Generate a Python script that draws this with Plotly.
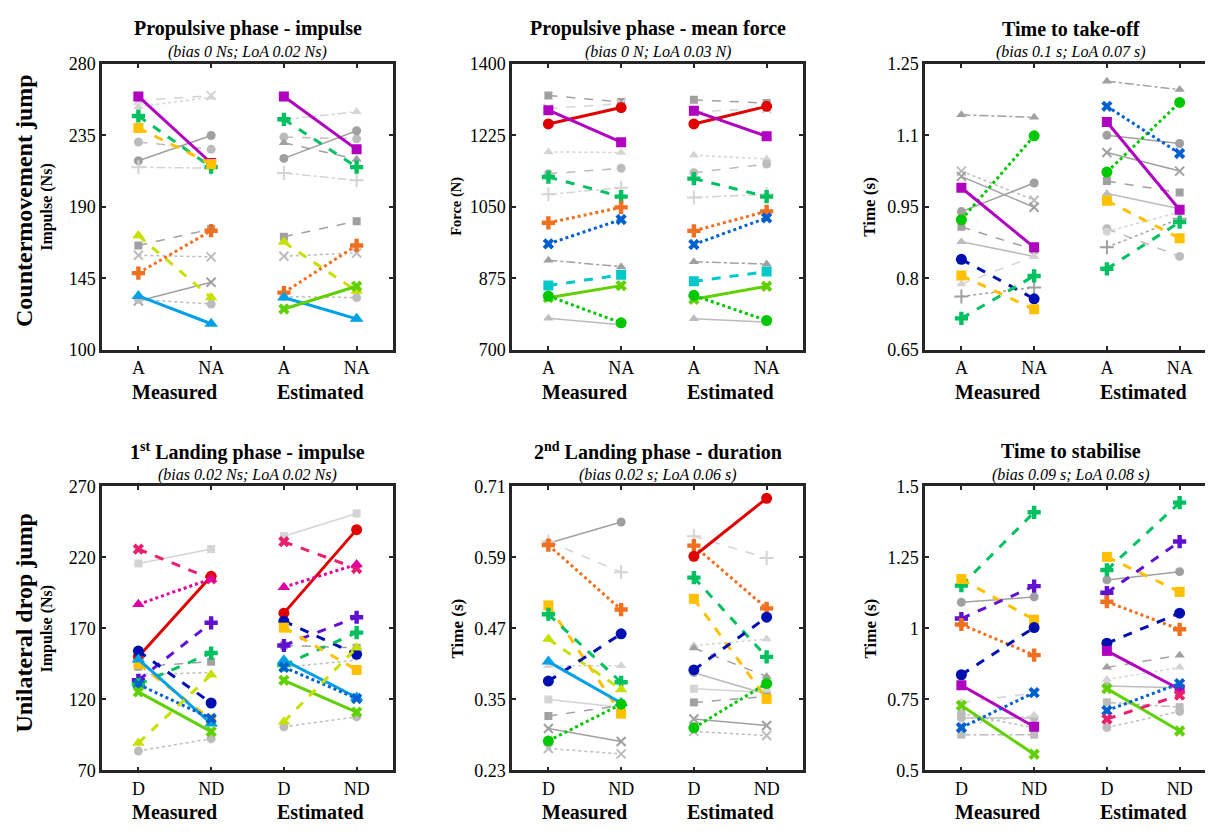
import plotly.graph_objects as go

# ---------------- data (values: [Measured A/D, Measured NA/ND, Estimated A/D, Estimated NA/ND]) ----------------
x_labels_top = ["A", "NA", "A", "NA"]
x_labels_bot = ["D", "ND", "D", "ND"]
group_labels = ["Measured", "Estimated"]

p1_series = ["g_lx_dash", "g_ltri_dot", "g_ltri_dashdot", "g_lcirc_dash", "g_circ_solid", "g_lplus_dashdot",
             "g_tri_dash", "g_sq_dash", "g_lx_dot", "g_x_solid", "g_circ_dot",
             "purple", "green_dash", "gold", "ygreen", "orange", "blue", "lime"]
p1_values = [[257, 260, None, None], [253, 259, None, None], [None, None, 245, 249.8],
             [230.8, 226.2, 234, 232.8], [219, 234.9, 220.5, 237.9], [215, 214.3, 211.3, 206.7],
             [None, None, 230.3, 220], [165.7, 176, 171.2, 181], [159.5, 158.5, 158.9, 161],
             [130.8, 142.5, None, None], [131.8, 128.8, 133.5, 132.9],
             [259.5, 217.6, 259.5, 226.2], [247.2, 215, 245.1, 215], [239.6, 217, None, None],
             [171.9, 132.9, 167.8, 137], [148.3, 175, 136, 165.7], [133.9, 116.4, 132.9, 119.5],
             [None, None, 125.7, 140]]

p2_series = ["g_sq_dash", "g_lx_dash", "g_ltri_dot", "g_lcirc_dash", "g_lplus_dashdot", "g_tri_dashdot",
             "g_ltri_solid", "red", "purple", "green_dash", "orange", "dblue", "cyan", "lime", "gdot"]
p2_values = [[1322.6, 1306.6, 1312, 1304], [1290.6, 1302.6, 1283, 1290.6], [1184.5, 1183, 1176.5, 1167],
             [1131, 1144.6, 1133.4, 1155], [1080.7, 1096.7, 1072.7, 1080.7], [919.5, 903.5, 915.5, 910],
             [777.4, 761.4, 775.8, 767.8], [1253, 1293, 1253, 1296], [1286.7, 1208.4, 1285, 1222.8],
             [1123, 1075, 1119, 1075], [1011, 1048.8, 991.3, 1039], [959.4, 1019, 957.8, 1023],
             [857.2, 883.6, 867.6, 891.5], [827.7, 857.2, 823.7, 855.6], [831.7, 766, 833.3, 771.8]]

p3_series = ["g_tri_dashdot", "g_lx_dot", "g_x_solid", "g_circ_solid", "g_sq_dash", "g_tri_solid",
             "g_ltri_dash", "g_plus_dot", "g_lcirc_dash", "g_lcirc_dot",
             "gdot", "purple", "navy", "gold", "green_dash", "dblue"]
p3_values = [[1.143, 1.138, 1.2136, 1.196], [1.025, 0.964, None, None], [1.014, 0.949, 1.064, 1.025],
             [0.94, 1.0, 1.10, 1.083], [0.908, 0.86, 1.004, 0.98], [0.877, 0.846, 0.978, 0.946],
             [0.788, 0.846, None, None], [0.762, 0.781, 0.865, 0.925], [None, None, 0.904, 0.846],
             [None, None, 0.898, 0.939],
             [0.923, 1.099, 1.023, 1.169], [0.990, 0.865, 1.128, 0.944], [0.84, 0.757, None, None],
             [0.806, 0.735, 0.963, 0.884], [0.716, 0.805, 0.82, 0.918], [None, None, 1.161, 1.062]]

p4_series = ["g_lsq_solid", "g_sq_dash", "g_ldot", "g_circ_dot",
             "pink", "red", "magenta", "violet", "navy", "green_dash", "gold", "blue", "dblue", "lime", "ygreen"]
p4_values = [[215.8, 225.9, 235, 251], [143.1, 146.6, 158, 156.4], [137.4, 139, 142.7, 147.7],
             [83.7, 92.4, 100.8, 107.7],
             [225.9, 204.9, 231.1, 212.2], [150, 206.7, 180.8, 239.6], [187, 204.9, 199.1, 215.1],
             [133.5, 174, 158, 177.9], [154.1, 117.5, 175.1, 151.8], [130.6, 152.7, 144.3, 167.1],
             [145, 106, 170.6, 140.8], [148.2, 103.1, 147.7, 121.4], [130.6, 106.6, 142.7, 120.7],
             [125.3, 97.4, 133.5, 111.1], [89.4, 137.4, 104.3, 156.4]]

p5_series = ["g_circ_solid", "g_lplus_dash", "g_ltri_dot", "g_tri_dash", "g_lcirc_solid", "g_lsq_solid",
             "g_sq_dash", "g_x_solid", "g_lx_dot",
             "orange", "red", "gold", "green_dash", "ygreen", "navy", "blue", "gdot"]
p5_values = [[0.614, 0.65, None, None], [0.617, 0.565, 0.626, 0.589], [0.407, 0.407, 0.441, 0.452],
             [None, None, 0.437, 0.389], [None, None, 0.395, 0.359], [0.35, 0.337, 0.368, 0.362],
             [0.322, 0.34, 0.345, 0.355], [0.301, 0.279, 0.317, 0.306], [0.267, 0.258, 0.296, 0.289],
             [0.611, 0.502, 0.61, 0.504], [None, None, 0.592, 0.69], [0.509, 0.326, 0.52, 0.351],
             [0.494, 0.379, 0.556, 0.422], [0.452, 0.367, None, None], [0.381, 0.461, 0.4, 0.489],
             [0.414, 0.344, None, None], [0.28, 0.342, 0.302, 0.377]]

p6_series = ["g_circ_solid", "g_ltri_dash", "g_lcirc_solid", "g_sq_dashdot", "g_ltri_dot", "g_tri_dash",
             "g_circ_dot",
             "green_dash", "gold", "violet", "orange", "navy", "purple", "lime", "dblue", "pink"]
p6_values = [[1.092, 1.111, 1.171, 1.2], [0.74, 0.772, None, None], [0.685, 0.685, 0.797, 0.791],
             [0.626, 0.626, 0.74, 0.723], [0.66, 0.694, 0.82, 0.863], [None, None, 0.863, 0.906],
             [0.70, 0.65, 0.651, 0.708],
             [1.151, 1.409, 1.206, 1.443], [1.174, 1.031, 1.252, 1.129], [1.035, 1.149, 1.126, 1.306],
             [1.014, 0.906, 1.094, 0.997], [0.837, 1.003, 0.948, 1.054], [0.80, 0.654, 0.921, 0.786],
             [0.729, 0.557, 0.788, 0.639], [0.651, 0.774, 0.711, 0.806], [None, None, 0.681, 0.765]]

titles = ["Propulsive phase - impulse", "Propulsive phase - mean force", "Time to take-off",
          "1<sup>st</sup> Landing phase - impulse", "2<sup>nd</sup> Landing phase - duration", "Time to stabilise"]
subtitles = ["(bias 0 Ns; LoA 0.02 Ns)", "(bias 0 N; LoA 0.03 N)", "(bias 0.1 s; LoA 0.07 s)",
             "(bias 0.02 Ns; LoA 0.02 Ns)", "(bias 0.02 s; LoA 0.06 s)", "(bias 0.09 s; LoA 0.08 s)"]
y_titles = ["Impulse (Ns)", "Force (N)", "Time (s)", "Impulse (Ns)", "Time (s)", "Time (s)"]
y_ticks = [[100, 145, 190, 235, 280], [700, 875, 1050, 1225, 1400], [0.65, 0.8, 0.95, 1.1, 1.25],
           [70, 120, 170, 220, 270], [0.23, 0.35, 0.47, 0.59, 0.71], [0.5, 0.75, 1, 1.25, 1.5]]
y_ticktext = [["100", "145", "190", "235", "280"], ["700", "875", "1050", "1225", "1400"],
              ["0.65", "0.8", "0.95", "1.1", "1.25"], ["70", "120", "170", "220", "270"],
              ["0.23", "0.35", "0.47", "0.59", "0.71"], ["0.5", "0.75", "1", "1.25", "1.5"]]
row_labels = ["Countermovement jump", "Unilateral drop jump"]
x_pos = [1, 2, 3, 4]

# ---------------- styles ----------------
G1, G2, G3 = "#a0a0a0", "#bcbcbc", "#d4d4d4"
STY = {
    # key: color, dash, symbol, width, size
    "purple": ("#b000c0", "solid", "square", 3, 10),
    "green_dash": ("#00c060", "dash", "cross", 3, 11),
    "gold": ("#ffc000", "dash", "square", 3, 10),
    "ygreen": ("#c8e000", "dash", "triangle-up", 3, 11),
    "orange": ("#f07020", "dot", "cross", 3, 11),
    "blue": ("#00a0e6", "solid", "triangle-up", 3, 12),
    "lime": ("#60d000", "solid", "x", 3, 10),
    "red": ("#e00000", "solid", "circle", 3, 11),
    "dblue": ("#0060d0", "dot", "x", 3, 10),
    "navy": ("#0010b0", "dash", "circle", 3, 11),
    "cyan": ("#00c8c8", "dash", "square", 3, 10),
    "gdot": ("#00c800", "dot", "circle", 3, 11),
    "pink": ("#e8206e", "dash", "x", 3, 10),
    "magenta": ("#e000a0", "dot", "triangle-up", 3, 11),
    "violet": ("#6010d0", "dash", "cross", 3, 11),
    "g_lx_dash": (G3, "dash", "x-thin", 1.5, 9),
    "g_ltri_dot": (G3, "dot", "triangle-up", 1.5, 9),
    "g_ltri_dashdot": (G3, "dashdot", "triangle-up", 1.5, 9),
    "g_ltri_dash": (G3, "dash", "triangle-up", 1.5, 9),
    "g_ltri_solid": (G2, "solid", "triangle-up", 1.5, 9),
    "g_lcirc_dash": (G2, "dash", "circle", 1.5, 9),
    "g_lcirc_dot": (G3, "dot", "circle", 1.5, 8),
    "g_lcirc_solid": (G2, "solid", "circle", 1.5, 9),
    "g_circ_solid": (G1, "solid", "circle", 1.5, 9),
    "g_circ_dot": (G2, "dot", "circle", 1.5, 9),
    "g_lplus_dashdot": (G3, "dashdot", "cross-thin", 1.5, 10),
    "g_lplus_dash": (G3, "dash", "cross-thin", 1.5, 10),
    "g_plus_dot": (G1, "dot", "cross-thin", 1.5, 10),
    "g_tri_dash": (G1, "dash", "triangle-up", 1.5, 9),
    "g_tri_dashdot": (G1, "dashdot", "triangle-up", 1.5, 9),
    "g_tri_solid": (G2, "solid", "triangle-up", 1.5, 9),
    "g_sq_dash": (G1, "dash", "square", 1.5, 8),
    "g_sq_dashdot": (G2, "dashdot", "square", 1.5, 8),
    "g_lsq_solid": (G3, "solid", "square", 1.5, 8),
    "g_lx_dot": (G2, "dot", "x-thin", 1.5, 9),
    "g_x_solid": (G1, "solid", "x-thin", 1.5, 9),
    "g_ldot": (G2, "dot", "circle", 1.5, 1),
}

panels = [(p1_series, p1_values), (p2_series, p2_values), (p3_series, p3_values),
          (p4_series, p4_values), (p5_series, p5_values), (p6_series, p6_values)]

W, H = 1213, 832
OFF = 8  # page body margin
col_px = [(102, 393), (512, 803), (925, 1216)]
row_px = [(55, 348), (488, 779)]
ytitle_size = [16, 14.5, 17, 16, 17, 17]

FONT = "Liberation Serif"
fig = go.Figure()

for k, (names, vals) in enumerate(panels):
    ax = "" if k == 0 else str(k + 1)
    order = sorted(range(len(names)), key=lambda i: 0 if names[i].startswith("g_") else 1)
    for i in order:
        key = names[i]
        v = vals[i]
        color, dash, sym, lw, ms = STY[key]
        xs = [x_pos[0], x_pos[1], None, x_pos[2], x_pos[3]]
        ys = [v[0], v[1], None, v[2], v[3]]
        thin = sym.endswith("-thin")
        fig.add_trace(go.Scatter(
            x=xs, y=ys, mode="lines+markers", xaxis="x" + ax, yaxis="y" + ax,
            line=dict(color=color, dash=dash, width=lw), connectgaps=False,
            marker=dict(symbol=sym, size=ms, color=color,
                        line=dict(color=color, width=2 if thin else 0)),
            showlegend=False, hoverinfo="y"))


def px_x(p):
    return min(max((p - OFF) / W, 0), 1)


def px_y(p):
    return min(max(1 - (p - OFF) / H, 0), 1)


layout = dict(width=W, height=H, margin=dict(l=0, r=0, t=0, b=0), plot_bgcolor="white",
              paper_bgcolor="white", font=dict(family=FONT, color="black"), showlegend=False)
annotations = []
for k in range(6):
    r, c = divmod(k, 3)
    x0, x1 = col_px[c]
    y0, y1 = row_px[r]
    ax = "" if k == 0 else str(k + 1)
    common = dict(showline=True, linewidth=2.5, linecolor="#262626", mirror="allticks",
                  ticks="inside", ticklen=4, tickwidth=2, tickcolor="#262626",
                  showgrid=False, zeroline=False, tickfont=dict(size=18, family=FONT, color="black"))
    layout["xaxis" + ax] = dict(domain=[px_x(x0), px_x(x1)], range=[0.5, 4.5], tickvals=x_pos,
                                ticktext=x_labels_top if r == 0 else x_labels_bot,
                                anchor="y" + ax, **common)
    layout["yaxis" + ax] = dict(domain=[px_y(y1), px_y(y0)], range=[y_ticks[k][0], y_ticks[k][-1]],
                                tickvals=y_ticks[k], ticktext=y_ticktext[k], anchor="x" + ax, **common)
    cx = px_x((x0 + x1) / 2)
    annotations.append(dict(text="<b>" + titles[k] + "</b>", x=cx, y=px_y(y0 - 36), xref="paper",
                            yref="paper", showarrow=False, font=dict(size=20, family=FONT),
                            xanchor="center", yanchor="middle"))
    annotations.append(dict(text="<i>" + subtitles[k] + "</i>", x=cx, y=px_y(y0 - 12), xref="paper",
                            yref="paper", showarrow=False, font=dict(size=16, family=FONT),
                            xanchor="center", yanchor="middle"))
    for g, gx in enumerate([1.5, 3.5]):
        annotations.append(dict(text="<b>" + group_labels[g] + "</b>", x=gx, xref="x" + ax,
                                y=px_y(y1 + 43), yref="paper", showarrow=False,
                                font=dict(size=20, family=FONT), xanchor="center", yanchor="middle"))
    annotations.append(dict(text="<b>" + y_titles[k] + "</b>", x=px_x(x0 - 55), y=px_y((y0 + y1) / 2),
                            xref="paper", yref="paper", showarrow=False, textangle=-90,
                            font=dict(size=ytitle_size[k], family=FONT), xanchor="center", yanchor="middle"))
for r in range(2):
    y0, y1 = row_px[r]
    annotations.append(dict(text="<b>" + row_labels[r] + "</b>", x=px_x(24), y=px_y((y0 + y1) / 2 - 6),
                            xref="paper", yref="paper", showarrow=False, textangle=-90,
                            font=dict(size=24, family=FONT), xanchor="center", yanchor="middle"))
layout["annotations"] = annotations
fig.update_layout(**layout)
fig.write_html("out.html")
